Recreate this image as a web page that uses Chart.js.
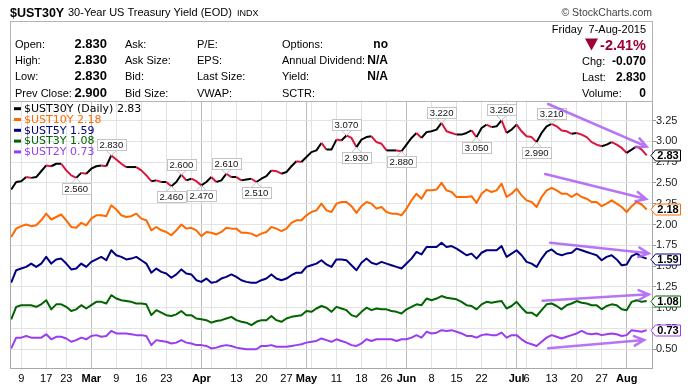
<!DOCTYPE html>
<html>
<head>
<meta charset="utf-8">
<script src="https://cdn.jsdelivr.net/npm/chart.js@4.4.1/dist/chart.umd.min.js"></script>
<style>
  body { margin: 0; background: #fff; width: 697px; height: 390px; overflow: hidden; }
  #c { display: block; }
</style>
</head>
<body>
<canvas id="c" width="697" height="390"></canvas>
<script>
// --- Trading days, Feb 5 to Aug 7 2015 ---
const dates = [
  '02-05','02-06','02-09','02-10','02-11','02-12','02-13','02-17','02-18','02-19','02-20','02-23','02-24','02-25','02-26','02-27',
  '03-02','03-03','03-04','03-05','03-06','03-09','03-10','03-11','03-12','03-13','03-16','03-17','03-18','03-19','03-20','03-23','03-24','03-25','03-26','03-27','03-30','03-31',
  '04-01','04-02','04-06','04-07','04-08','04-09','04-10','04-13','04-14','04-15','04-16','04-17','04-20','04-21','04-22','04-23','04-24','04-27','04-28','04-29','04-30',
  '05-01','05-04','05-05','05-06','05-07','05-08','05-11','05-12','05-13','05-14','05-15','05-18','05-19','05-20','05-21','05-22','05-26','05-27','05-28','05-29',
  '06-01','06-02','06-03','06-04','06-05','06-08','06-09','06-10','06-11','06-12','06-15','06-16','06-17','06-18','06-19','06-22','06-23','06-24','06-25','06-26','06-29','06-30',
  '07-01','07-02','07-06','07-07','07-08','07-09','07-10','07-13','07-14','07-15','07-16','07-17','07-20','07-21','07-22','07-23','07-24','07-27','07-28','07-29','07-30','07-31',
  '08-03','08-04','08-05','08-06','08-07'
];

const ust30 = [
  2.42, 2.51, 2.52, 2.57, 2.56, 2.57, 2.64, 2.71, 2.70, 2.73,
  2.73, 2.65, 2.59, 2.56, 2.62, 2.61, 2.67, 2.70, 2.71, 2.70,
  2.83, 2.78, 2.73, 2.69, 2.69, 2.69, 2.65, 2.59, 2.52, 2.53,
  2.51, 2.51, 2.46, 2.51, 2.60, 2.53, 2.55, 2.52, 2.47, 2.51,
  2.57, 2.51, 2.53, 2.61, 2.57, 2.57, 2.53, 2.54, 2.55, 2.51,
  2.55, 2.58, 2.65, 2.64, 2.61, 2.63, 2.70, 2.76, 2.75, 2.81,
  2.87, 2.89, 2.98, 2.90, 2.90, 3.02, 3.01, 3.07, 3.04, 2.93,
  3.02, 3.05, 3.06, 2.99, 2.97, 2.89, 2.89, 2.89, 2.88, 2.96,
  3.04, 3.10, 3.04, 3.11, 3.12, 3.14, 3.22, 3.12, 3.10, 3.08,
  3.08, 3.10, 3.13, 3.05, 3.16, 3.20, 3.17, 3.18, 3.25, 3.10,
  3.14, 3.20, 3.12, 3.06, 3.05, 2.99, 3.10, 3.18, 3.21, 3.18,
  3.13, 3.12, 3.09, 3.10, 3.08, 3.05, 2.99, 2.96, 2.94, 2.96,
  2.99, 2.96, 2.92, 2.86, 2.90, 2.94, 2.90, 2.83
];
const ust10 = [
  1.85, 1.95, 1.98, 2.00, 1.98, 1.99, 2.05, 2.13, 2.06, 2.09,
  2.12, 2.05, 1.97, 1.96, 2.02, 1.99, 2.07, 2.11, 2.11, 2.10,
  2.23, 2.18, 2.11, 2.09, 2.10, 2.13, 2.07, 2.05, 1.93, 1.97,
  1.93, 1.91, 1.87, 1.93, 2.00, 1.95, 1.96, 1.93, 1.86, 1.91,
  1.90, 1.88, 1.91, 1.96, 1.95, 1.95, 1.90, 1.90, 1.89, 1.86,
  1.89, 1.91, 1.97, 1.95, 1.92, 1.95, 2.02, 2.05, 2.05, 2.11,
  2.15, 2.17, 2.25, 2.17, 2.15, 2.25, 2.27, 2.27, 2.22, 2.14,
  2.22, 2.27, 2.25, 2.19, 2.21, 2.15, 2.13, 2.13, 2.11, 2.19,
  2.29, 2.37, 2.31, 2.41, 2.41, 2.42, 2.50, 2.41, 2.39, 2.33,
  2.33, 2.33, 2.34, 2.26, 2.37, 2.42, 2.39, 2.41, 2.49, 2.33,
  2.37, 2.43, 2.35, 2.29, 2.27, 2.21, 2.33, 2.41, 2.44, 2.41,
  2.37, 2.37, 2.33, 2.37, 2.33, 2.31, 2.27, 2.27, 2.22, 2.25,
  2.29, 2.25, 2.21, 2.15, 2.22, 2.27, 2.24, 2.18
];
const ust5 = [
  1.30, 1.45, 1.47, 1.49, 1.53, 1.49, 1.53, 1.61, 1.53, 1.58,
  1.59, 1.53, 1.46, 1.47, 1.53, 1.49, 1.55, 1.58, 1.61, 1.57,
  1.69, 1.63, 1.61, 1.58, 1.59, 1.61, 1.57, 1.53, 1.42, 1.47,
  1.43, 1.41, 1.36, 1.40, 1.46, 1.41, 1.40, 1.33, 1.31, 1.35,
  1.30, 1.31, 1.35, 1.37, 1.40, 1.37, 1.33, 1.31, 1.30, 1.30,
  1.33, 1.35, 1.40, 1.35, 1.33, 1.35, 1.39, 1.42, 1.42, 1.49,
  1.51, 1.53, 1.57, 1.52, 1.49, 1.58, 1.58, 1.57, 1.51, 1.45,
  1.54, 1.59, 1.54, 1.52, 1.55, 1.53, 1.51, 1.49, 1.47, 1.53,
  1.59, 1.67, 1.64, 1.73, 1.73, 1.73, 1.78, 1.73, 1.74, 1.71,
  1.67, 1.63, 1.65, 1.59, 1.66, 1.69, 1.69, 1.69, 1.74, 1.61,
  1.65, 1.69, 1.63, 1.55, 1.53, 1.49, 1.59, 1.67, 1.70, 1.65,
  1.63, 1.65, 1.66, 1.71, 1.69, 1.67, 1.65, 1.63, 1.57, 1.61,
  1.63, 1.58, 1.51, 1.52, 1.62, 1.65, 1.61, 1.59
];
const ust3 = [
  0.86, 1.01, 1.03, 1.03, 1.03, 1.01, 1.04, 1.09, 0.98, 1.04,
  1.04, 1.01, 0.96, 0.98, 1.03, 0.99, 1.03, 1.07, 1.07, 1.05,
  1.15, 1.11, 1.09, 1.08, 1.07, 1.05, 1.05, 1.04, 0.91, 0.97,
  0.94, 0.91, 0.90, 0.92, 0.96, 0.91, 0.91, 0.87, 0.86, 0.85,
  0.82, 0.84, 0.85, 0.87, 0.89, 0.85, 0.83, 0.82, 0.79, 0.83,
  0.85, 0.85, 0.90, 0.85, 0.83, 0.87, 0.89, 0.90, 0.91, 0.96,
  0.95, 0.99, 1.02, 1.00, 0.95, 1.01, 0.99, 0.97, 0.91, 0.89,
  0.95, 1.00, 0.97, 0.99, 0.98, 0.98, 0.96, 0.95, 0.93, 0.98,
  1.01, 1.04, 1.03, 1.11, 1.09, 1.11, 1.14, 1.12, 1.11, 1.10,
  1.07, 1.03, 1.02, 0.98, 1.04, 1.07, 1.06, 1.07, 1.08, 0.99,
  1.02, 1.07, 1.00, 0.94, 0.94, 0.90, 0.97, 1.04, 1.05, 1.02,
  0.98, 1.03, 1.05, 1.08, 1.06, 1.05, 1.03, 1.03, 0.98, 1.02,
  1.04, 1.03, 0.98, 0.97, 1.07, 1.09, 1.07, 1.08
];
const ust2 = [
  0.51, 0.64, 0.64, 0.66, 0.64, 0.64, 0.64, 0.68, 0.62, 0.65,
  0.65, 0.63, 0.59, 0.61, 0.64, 0.62, 0.66, 0.67, 0.65, 0.66,
  0.72, 0.69, 0.69, 0.69, 0.68, 0.67, 0.67, 0.66, 0.55, 0.61,
  0.60, 0.59, 0.57, 0.58, 0.61, 0.58, 0.57, 0.55, 0.55, 0.54,
  0.51, 0.52, 0.54, 0.55, 0.54, 0.52, 0.51, 0.50, 0.50, 0.50,
  0.54, 0.54, 0.55, 0.53, 0.53, 0.53, 0.54, 0.55, 0.56, 0.58,
  0.59, 0.60, 0.63, 0.61, 0.59, 0.62, 0.60, 0.58, 0.55, 0.54,
  0.57, 0.62, 0.60, 0.62, 0.62, 0.62, 0.62, 0.60, 0.62, 0.62,
  0.64, 0.67, 0.64, 0.71, 0.69, 0.70, 0.73, 0.72, 0.73, 0.71,
  0.69, 0.66, 0.66, 0.64, 0.67, 0.68, 0.67, 0.67, 0.70, 0.64,
  0.67, 0.67, 0.62, 0.58, 0.56, 0.54, 0.59, 0.64, 0.67, 0.65,
  0.63, 0.65, 0.67, 0.69, 0.72, 0.69, 0.68, 0.69, 0.67, 0.68,
  0.69, 0.68, 0.66, 0.67, 0.73, 0.72, 0.71, 0.73
];

// x ticks: index into dates, label ('' = gridline only)
const tickIdx  = [2, 7, 11, 16, 21, 26, 31, 36, 38, 40, 45, 50, 55, 59, 60, 65, 70, 75, 79, 84, 89, 94, 99, 101, 103, 108, 113, 118, 123];
const tickText = ['9','17','23','Mar','9','16','23','','Apr','','13','20','27','May','','11','18','26','Jun','8','15','22','','Jul','6','13','20','27','Aug'];
const monthNames = ['Mar', 'Apr', 'May', 'Jun', 'Jul', 'Aug'];
const yTicks = [0.5, 0.75, 1.0, 1.25, 1.5, 1.75, 2.0, 2.25, 2.5, 2.75, 3.0, 3.25];

// swing labels on the 30Y line (index into dates)
const swingIdx = [13, 20, 32, 34, 38, 43, 49, 67, 69, 78, 86, 93, 98, 105, 108];

// trend arrows drawn on the chart, [day index, yield]
const arrowFrom = [[107.3, 3.448], [106.7, 2.607], [107.7, 1.781], [106.2, 1.084], [107.3, 0.511]];
const arrowTo   = [[127.0, 2.935], [126.9, 2.306], [127.4, 1.653], [127.4, 1.160], [126.5, 0.611]];

const RED = '#dc143c';
const series = [
  { name: '$UST30Y (Daily)', data: ust30, color: '#000000', textColor: '#000000' },
  { name: '$UST10Y', data: ust10, color: '#ff6a00', textColor: '#ff6a00' },
  { name: '$UST5Y', data: ust5, color: '#000080', textColor: '#000080' },
  { name: '$UST3Y', data: ust3, color: '#006400', textColor: '#006400' },
  { name: '$UST2Y', data: ust2, color: '#9b3cf0', textColor: '#9b3cf0' }
];
const last = arr => arr[arr.length - 1];
const SANS = '"Liberation Sans", Arial, sans-serif';

// --- Header block (quote table) ---
const headerPlugin = {
  id: 'header',
  afterDraw(chart) {
    const c = chart.ctx;
    c.save();
    const txt = (s, x, y, font, color, align) => {
      c.font = font; c.fillStyle = color || '#000'; c.textAlign = align || 'left';
      c.textBaseline = 'alphabetic'; c.fillText(s, x, y);
    };
    c.strokeStyle = '#b4b4b4'; c.lineWidth = 1;
    c.strokeRect(10.5, 21.5, 642, 80);

    txt('$UST30Y', 10, 16.5, 'bold 12.5px ' + SANS);
    txt('30-Year US Treasury Yield (EOD)', 68, 16, '11px ' + SANS);
    txt('INDX', 237, 15.7, '9px ' + SANS);
    txt('\u00A9 StockCharts.com', 652, 16, '10.5px ' + SANS, '#444', 'right');

    const rows = [48, 64.3, 80.3, 96.5];
    const n = '11px ' + SANS, b = 'bold 13px ' + SANS, b2 = 'bold 12px ' + SANS;
    ['Open:', 'High:', 'Low:', 'Prev Close:'].forEach((s, i) => txt(s, 15, rows[i], n));
    ['2.830', '2.830', '2.830', '2.900'].forEach((s, i) => txt(s, 107, rows[i], b, '#000', 'right'));
    ['Ask:', 'Ask Size:', 'Bid:', 'Bid Size:'].forEach((s, i) => txt(s, 125, rows[i], n));
    ['P/E:', 'EPS:', 'Last Size:', 'VWAP:'].forEach((s, i) => txt(s, 197, rows[i], n));
    ['Options:', 'Annual Dividend:', 'Yield:', 'SCTR:'].forEach((s, i) => txt(s, 282, rows[i], n));
    ['no', 'N/A', 'N/A'].forEach((s, i) => txt(s, 388, rows[i], b2, '#000', 'right'));

    txt('Friday\u00A0 7-Aug-2015', 646, 33, n, '#000', 'right');
    c.fillStyle = '#9e0033';
    c.beginPath(); c.moveTo(585, 38.5); c.lineTo(598, 38.5); c.lineTo(591.5, 50.5); c.closePath(); c.fill();
    txt('-2.41%', 646, 50, 'bold 14.5px ' + SANS, '#9e0033', 'right');
    txt('Chg:', 582, 65, n); txt('-0.070', 646, 65, b2, '#000', 'right');
    txt('Last:', 582, 81, n); txt('2.830', 646, 81, b2, '#000', 'right');
    txt('Volume:', 582, 96.7, n); txt('0', 646, 96.7, b2, '#000', 'right');
    c.restore();
  }
};

// --- Plot border, legend, swing labels, arrows ---
const overlayPlugin = {
  id: 'overlay',
  afterDatasetsDraw(chart) {
    const c = chart.ctx, a = chart.chartArea;
    const xs = chart.scales.x, ys = chart.scales.y;
    c.save();

    // swing high / low labels
    c.font = '9.5px ' + SANS;
    c.textAlign = 'center'; c.textBaseline = 'middle';
    swingIdx.forEach(i => {
      const v = ust30[i];
      const high = v >= ust30[i - 1] && v >= ust30[i + 1];
      const px = xs.getPixelForValue(i), py = ys.getPixelForValue(v);
      const s = v.toFixed(3);
      const w = Math.round(c.measureText(s).width) + 5, h = 11;
      const bx = Math.round(px - w / 2) + 0.5;
      const by = high ? Math.round(py - 5 - h) + 0.5 : Math.round(py + 5) + 0.5;
      const edge = high ? by + h : by;
      c.strokeStyle = '#c4c4c4'; c.lineWidth = 1;
      c.beginPath();
      c.moveTo(px - 5, edge); c.lineTo(px, py);
      c.moveTo(px + 5, edge); c.lineTo(px, py);
      c.stroke();
      c.fillStyle = '#fff';
      c.fillRect(bx, by, w, h);
      c.strokeRect(bx, by, w, h);
      c.fillStyle = '#111';
      c.fillText(s, px, by + h / 2 + 0.5);
    });

    // trend arrows
    c.strokeStyle = 'rgba(172, 92, 245, 0.85)';
    c.lineWidth = 2.5; c.lineCap = 'round';
    arrowFrom.forEach((f, k) => {
      const t = arrowTo[k];
      const x1 = xs.getPixelForValue(f[0]), y1 = ys.getPixelForValue(f[1]);
      const x2 = xs.getPixelForValue(t[0]), y2 = ys.getPixelForValue(t[1]);
      const ang = Math.atan2(y2 - y1, x2 - x1);
      c.beginPath();
      c.moveTo(x1, y1); c.lineTo(x2, y2);
      c.moveTo(x2 - 11 * Math.cos(ang - 0.45), y2 - 11 * Math.sin(ang - 0.45));
      c.lineTo(x2, y2);
      c.lineTo(x2 - 11 * Math.cos(ang + 0.45), y2 - 11 * Math.sin(ang + 0.45));
      c.stroke();
    });

    // legend
    c.font = '11px "DejaVu Sans", sans-serif';
    c.textAlign = 'left'; c.textBaseline = 'middle';
    c.lineCap = 'butt';
    series.forEach((s, k) => {
      const y = 108.7 + k * 10.8;
      c.strokeStyle = s.color; c.lineWidth = 3;
      c.beginPath(); c.moveTo(14, y); c.lineTo(21, y); c.stroke();
      c.fillStyle = s.textColor;
      c.fillText(s.name + ' ' + last(s.data).toFixed(2), 24, y + 0.5);
    });

    // plot border
    c.strokeStyle = '#a8a8a8'; c.lineWidth = 1;
    c.strokeRect(a.left + 0.5, a.top + 0.5, a.right - a.left - 1, a.bottom - a.top - 1);
    c.restore();
  },
  afterDraw(chart) {
    // last-value tags on the right axis
    const c = chart.ctx, ys = chart.scales.y;
    c.save();
    c.font = 'bold 11px ' + SANS;
    c.textAlign = 'center'; c.textBaseline = 'middle';
    series.forEach(s => {
      const v = last(s.data);
      const y = Math.round(ys.getPixelForValue(v)) + 0.5;
      c.beginPath();
      c.moveTo(651, y); c.lineTo(655.5, y - 5.5); c.lineTo(680.5, y - 5.5);
      c.lineTo(680.5, y + 5.5); c.lineTo(655.5, y + 5.5); c.closePath();
      c.fillStyle = '#fff'; c.fill();
      c.strokeStyle = s.color; c.lineWidth = 1; c.stroke();
      c.fillStyle = '#000';
      c.fillText(v.toFixed(2), 668, y + 0.5);
    });
    c.restore();
  }
};

const datasets = series.map((s, k) => ({
  label: s.name,
  data: s.data.map((v, i) => ({ x: i, y: v })),
  borderColor: s.color,
  borderWidth: 2,
  pointRadius: 0,
  tension: 0,
  borderJoinStyle: 'round',
  segment: k === 0 ? {
    borderColor: ctx => ctx.p1.parsed.y < ctx.p0.parsed.y ? RED : '#000000'
  } : undefined
}));

new Chart(document.getElementById('c'), {
  type: 'line',
  data: { datasets },
  options: {
    responsive: false,
    devicePixelRatio: 1,
    animation: false,
    layout: { padding: { left: 10, top: 101, right: 0, bottom: 0 } },
    plugins: { legend: { display: false }, tooltip: { enabled: false } },
    scales: {
      x: {
        type: 'linear',
        min: -0.24,
        max: 128.26,
        afterBuildTicks: s => { s.ticks = tickIdx.map(v => ({ value: v })); },
        afterFit: s => { s.height = 21; },
        border: { display: false },
        grid: {
          drawTicks: false,
          color: ctx => monthNames.includes(tickText[ctx.index]) ? '#bdbdbd' : '#e3e3e3'
        },
        ticks: {
          autoSkip: false,
          maxRotation: 0,
          padding: 3,
          color: '#000',
          font: ctx => ({ family: SANS, size: 11, weight: monthNames.includes(tickText[ctx.index]) ? 'bold' : 'normal' }),
          callback: (v, i) => tickText[i]
        }
      },
      y: {
        position: 'right',
        min: 0.263,
        max: 3.484,
        afterBuildTicks: s => { s.ticks = yTicks.map(v => ({ value: v })); },
        afterFit: s => { s.width = 44; },
        border: { display: false },
        grid: { color: '#e3e3e3', tickLength: 3, tickColor: '#999' },
        ticks: {
          padding: 0,
          color: '#222',
          font: { family: SANS, size: 11 },
          callback: v => v.toFixed(2)
        }
      }
    }
  },
  plugins: [headerPlugin, overlayPlugin]
});
</script>
</body>
</html>
